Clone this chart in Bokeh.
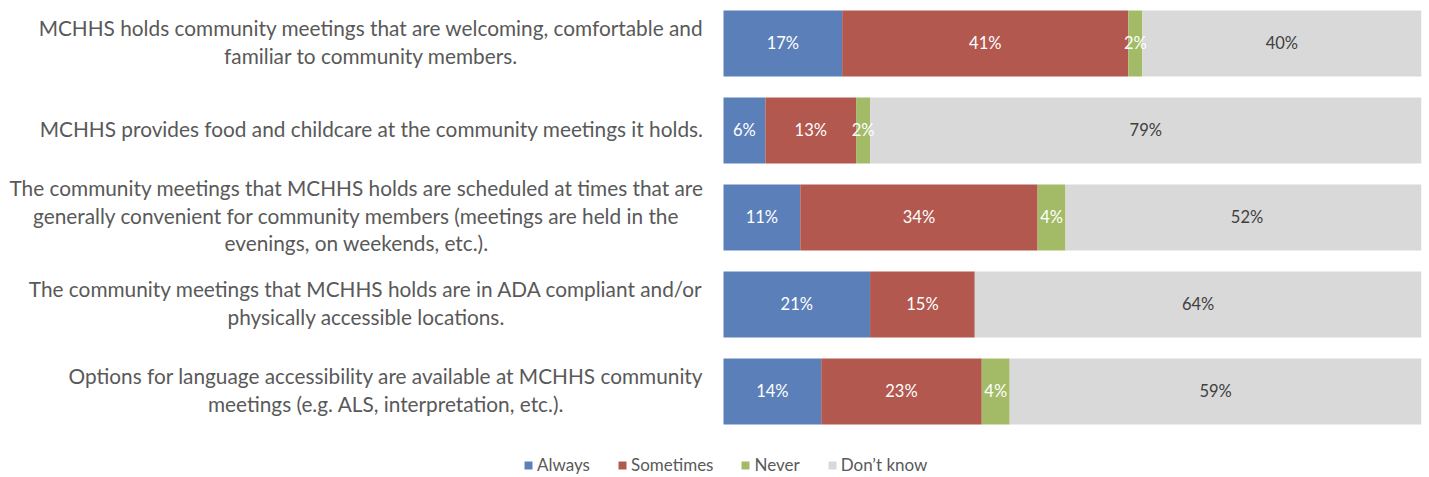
from bokeh.plotting import figure
from bokeh.models import ColumnDataSource, Range1d, Legend, LegendItem
from bokeh.core.properties import value
from bokeh.embed import file_html
from bokeh.resources import INLINE

statements = [
    "MCHHS holds community meetings that are welcoming, comfortable and\nfamiliar to community members.",
    "MCHHS provides food and childcare at the community meetings it holds.",
    "The community meetings that MCHHS holds are scheduled at times that are\ngenerally convenient for community members (meetings are held in the\nevenings, on weekends, etc.).",
    "The community meetings that MCHHS holds are in ADA compliant and/or\nphysically accessible locations.",
    "Options for language accessibility are available at MCHHS community\nmeetings (e.g. ALS, interpretation, etc.).",
]
series = ["Always", "Sometimes", "Never", "Don\u2019t know"]
always = [17, 6, 11, 21, 14]
sometimes = [41, 13, 34, 15, 23]
never = [2, 2, 4, 0, 4]
dont_know = [40, 79, 52, 64, 59]

colors = ["#5B80B9", "#B2584F", "#A3BB66", "#D9D9D9"]
label_colors = ["#FFFFFF", "#FFFFFF", "#FFFFFF", "#404040"]
FONT = "Lato"

ypos = list(range(len(statements)))
keys = ["always", "sometimes", "never", "dont_know"]
data = dict(y=ypos, always=always, sometimes=sometimes, never=never, dont_know=dont_know)
src = ColumnDataSource(data)

p = figure(width=1429, height=477,
           x_range=Range1d(-103.58, 100), y_range=Range1d(4.989, -0.494),
           x_axis_location=None, y_axis_location=None,
           toolbar_location=None, output_backend="svg",
           min_border=0, min_border_right=8, outline_line_color=None)
p.grid.visible = False

rends = p.hbar_stack(keys, y="y", height=0.76, color=colors, line_color=None, source=src)

# data labels
lx, ly, lt, lc = [], [], [], []
for i in range(len(statements)):
    left = 0
    for k, col in zip(keys, label_colors):
        v = data[k][i]
        if v > 0:
            lx.append(left + v / 2)
            ly.append(ypos[i])
            lt.append(f"{v}%")
            lc.append(col)
        left += v
p.text(x="x", y="y", text="t", text_color="c",
       source=ColumnDataSource(dict(x=lx, y=ly, t=lt, c=lc)),
       text_align="center", text_baseline="middle",
       text_font=value(FONT), text_font_size="16.5px")

# category labels
p.text(x=[0] * len(statements), y=ypos, text=statements,
       x_offset=-20, y_offset=-2, anchor="center_right",
       text_align="center", text_baseline="middle",
       text_line_height=1.1, text_color="#595959",
       text_font=value(FONT), text_font_size="20.8px")

legend = Legend(items=[LegendItem(label=s, renderers=[r]) for s, r in zip(series, rends)],
                location=(523, 2), orientation="horizontal",
                glyph_width=10, glyph_height=10, label_standoff=4, spacing=27,
                label_height=16, label_text_font=FONT,
                label_text_font_size="17px", label_text_color="#595959",
                border_line_color=None, background_fill_alpha=0,
                padding=0, margin=0)
p.add_layout(legend)

open("out.html", "w").write(file_html(p, INLINE))
